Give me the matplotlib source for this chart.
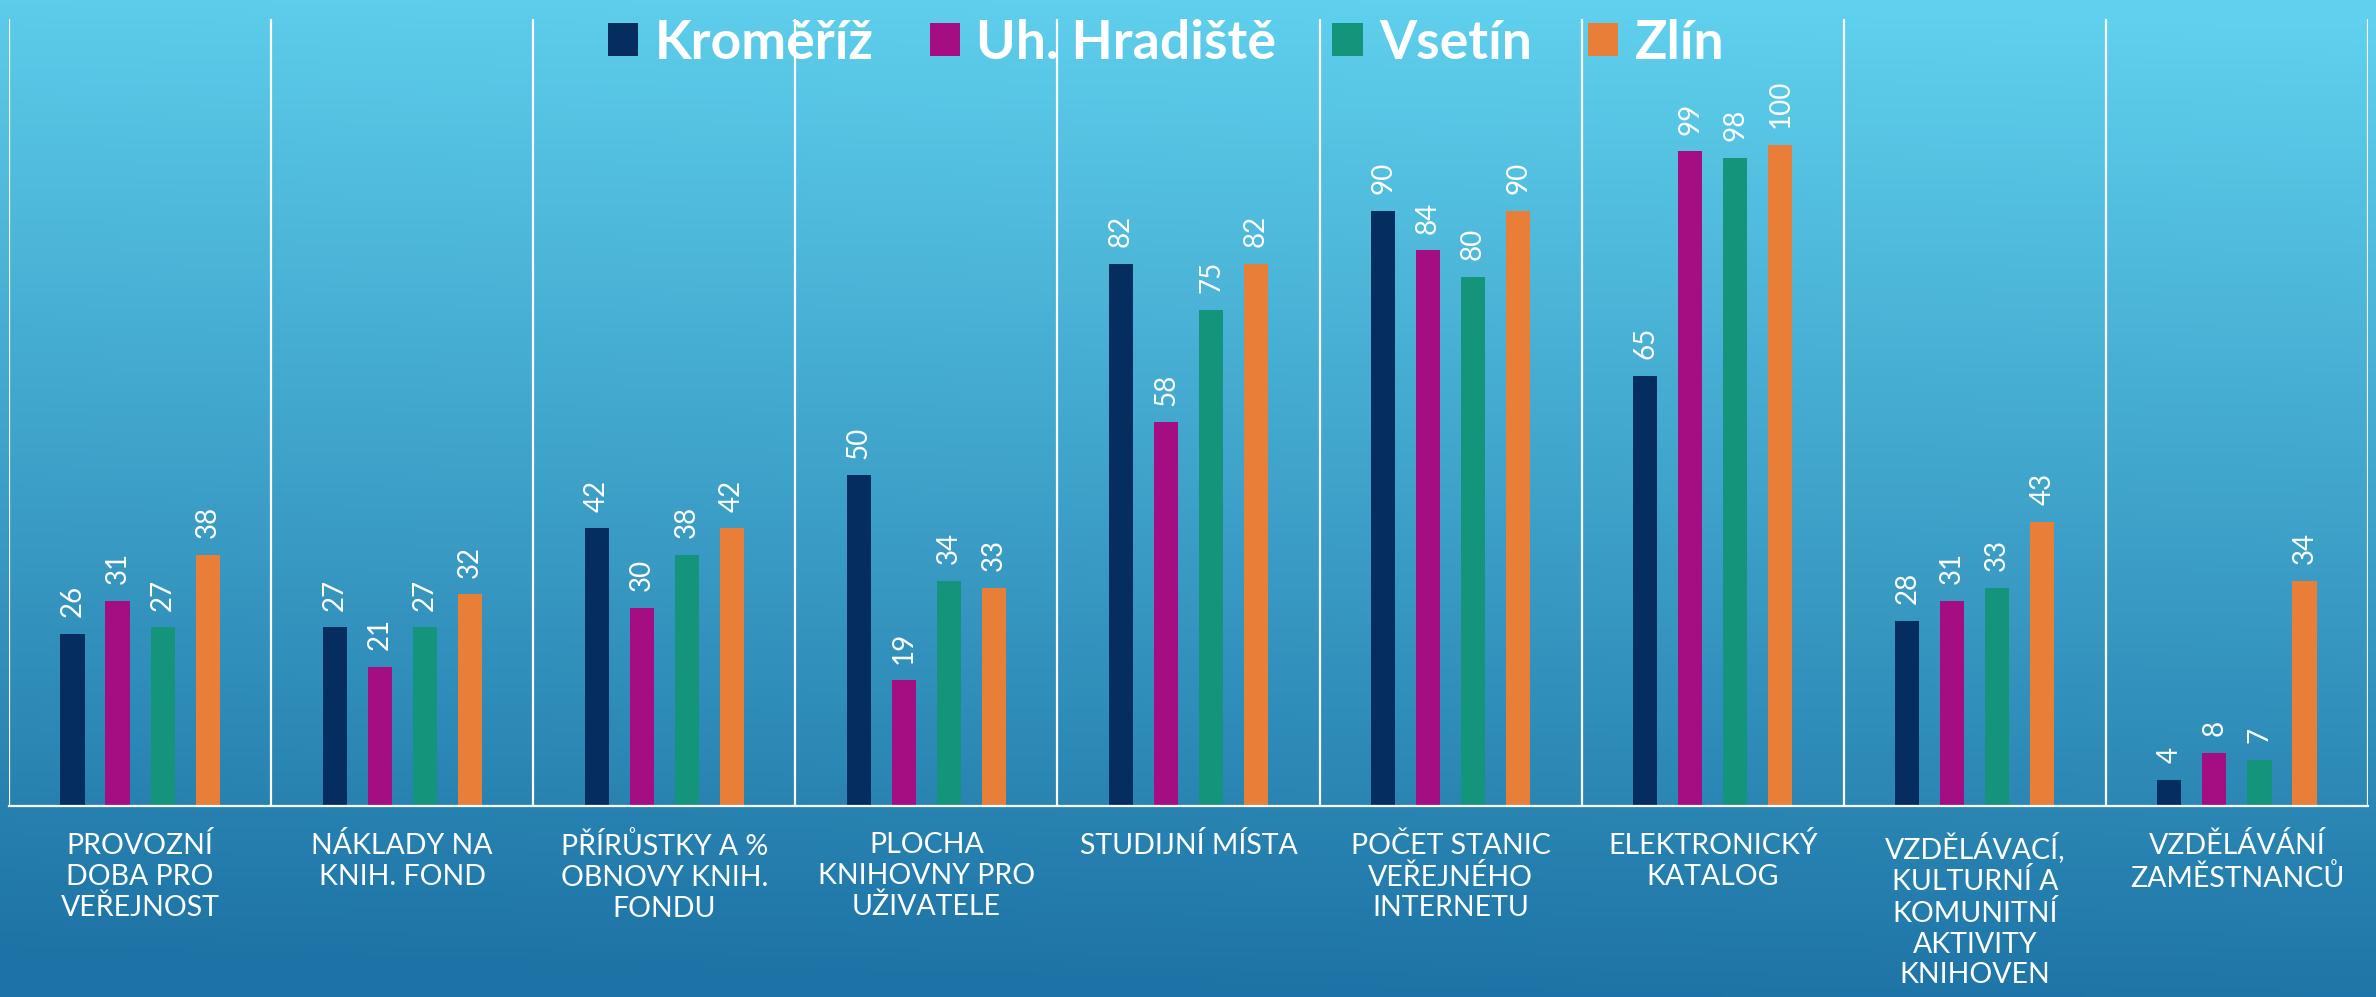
"""
Grouped barplot of library evaluation indicators for four districts.

Bars per district, value labels rotated above bars, category separators
drawn as white vertical lines over a blue gradient background.
"""
import numpy as np
import matplotlib
matplotlib.use('Agg')  # Non-interactive backend
import matplotlib.pyplot as plt
import matplotlib.colors as mc
from matplotlib.patches import Patch


# Categories (x-axis), wrapped as in the original slide
CATEGORIES = [
    "PROVOZNÍ\nDOBA PRO\nVEŘEJNOST",
    "NÁKLADY NA\nKNIH. FOND",
    "PŘÍRŮSTKY A %\nOBNOVY KNIH.\nFONDU",
    "PLOCHA\nKNIHOVNY PRO\nUŽIVATELE",
    "STUDIJNÍ MÍSTA",
    "POČET STANIC\nVEŘEJNÉHO\nINTERNETU",
    "ELEKTRONICKÝ\nKATALOG",
    "VZDĚLÁVACÍ,\nKULTURNÍ A\nKOMUNITNÍ\nAKTIVITY\nKNIHOVEN",
    "VZDĚLÁVÁNÍ\nZAMĚSTNANCŮ",
]

SERIES_NAMES = ["Kroměříž", "Uh. Hradiště", "Vsetín", "Zlín"]

KROMERIZ = [26, 27, 42, 50, 82, 90, 65, 28, 4]
UH_HRADISTE = [31, 21, 30, 19, 58, 84, 99, 31, 8]
VSETIN = [27, 27, 38, 34, 75, 80, 98, 33, 7]
ZLIN = [38, 32, 42, 33, 82, 90, 100, 43, 34]

# Series colors
COLORS = ["#052d5f", "#a50e82", "#14957b", "#e87e37"]

# Gradient end colors of the slide background
BG_TOP = "#5fd0ed"
BG_BOTTOM = "#1d73a5"

TEXT_FONT = ["Lato", "DejaVu Sans"]


def _draw_background(fig):
    """Fill the whole figure with a slightly diagonal blue gradient."""
    bg_ax = fig.add_axes([0, 0, 1, 1], zorder=-10)
    h, w = 200, 400
    yy, xx = np.mgrid[0:h, 0:w]
    t = yy / (h - 1) - 0.07 * (xx / (w - 1)) + 0.04
    t = np.clip(t, 0, 1)
    top = np.array(mc.to_rgb(BG_TOP))
    bottom = np.array(mc.to_rgb(BG_BOTTOM))
    img = (1 - t)[..., None] * top + t[..., None] * bottom
    bg_ax.imshow(img, aspect='auto', extent=[0, 1, 0, 1], origin='upper')
    bg_ax.set_axis_off()


def main():
    series = [KROMERIZ, UH_HRADISTE, VSETIN, ZLIN]
    n_cats = len(CATEGORIES)
    n_series = len(series)

    W, H = 2376, 997
    fig = plt.figure(figsize=(W / 100, H / 100), dpi=100)
    _draw_background(fig)

    # Axes placed in pixel terms: left 9, right 2368, top 19, bottom 806
    left, right, top, bottom = 9, 2368, 19, 806
    ax = fig.add_axes([left / W, 1 - bottom / H, (right - left) / W, (bottom - top) / H])
    ax.set_facecolor("none")

    x = np.arange(n_cats)
    bar_width = 0.092
    spacing = 0.1717
    ymax = 119

    for i, (name, vals) in enumerate(zip(SERIES_NAMES, series)):
        offset = (i - (n_series - 1) / 2) * spacing
        bars = ax.bar(x + offset, vals, bar_width, color=COLORS[i], label=name, zorder=3)
        for rect, v in zip(bars, vals):
            ax.annotate(f"{v}",
                        xy=(rect.get_x() + rect.get_width() / 2, rect.get_height()),
                        xytext=(0, 12), textcoords="offset points",
                        rotation=90, ha="center", va="bottom",
                        fontsize=20, color="white",
                        family=TEXT_FONT, fontweight="normal")

    # Category separators
    ax.vlines(np.arange(n_cats + 1) - 0.5, 0, ymax, colors="white", lw=1.6, zorder=2)
    ax.set_xlim(-0.5, n_cats - 0.5)
    ax.set_ylim(0, ymax)

    for name, spine in ax.spines.items():
        spine.set_visible(name == "bottom")
    ax.spines["bottom"].set_color("white")
    ax.spines["bottom"].set_linewidth(1.6)
    ax.spines["bottom"].set_zorder(4)

    ax.set_yticks([])
    ax.set_xticks(x)
    ax.set_xticklabels(CATEGORIES, fontsize=20.5, color="white",
                       family=TEXT_FONT, fontweight="normal",
                       linespacing=1.22)
    ax.tick_params(axis="x", length=0, pad=19)

    handles = [Patch(facecolor=c, edgecolor="none") for c in COLORS]
    leg = fig.legend(handles, SERIES_NAMES, loc="upper center",
                     bbox_to_anchor=(1166 / W, 1 + 8 / H), ncol=n_series,
                     frameon=False, handlelength=0.57, handleheight=0.57,
                     handletextpad=0.3, columnspacing=1.05, borderpad=0,
                     prop={"family": TEXT_FONT, "weight": "bold", "size": 38.5})
    for text in leg.get_texts():
        text.set_color("white")

    fig.savefig("out.png", dpi=100)
    plt.close(fig)


if __name__ == "__main__":
    main()
